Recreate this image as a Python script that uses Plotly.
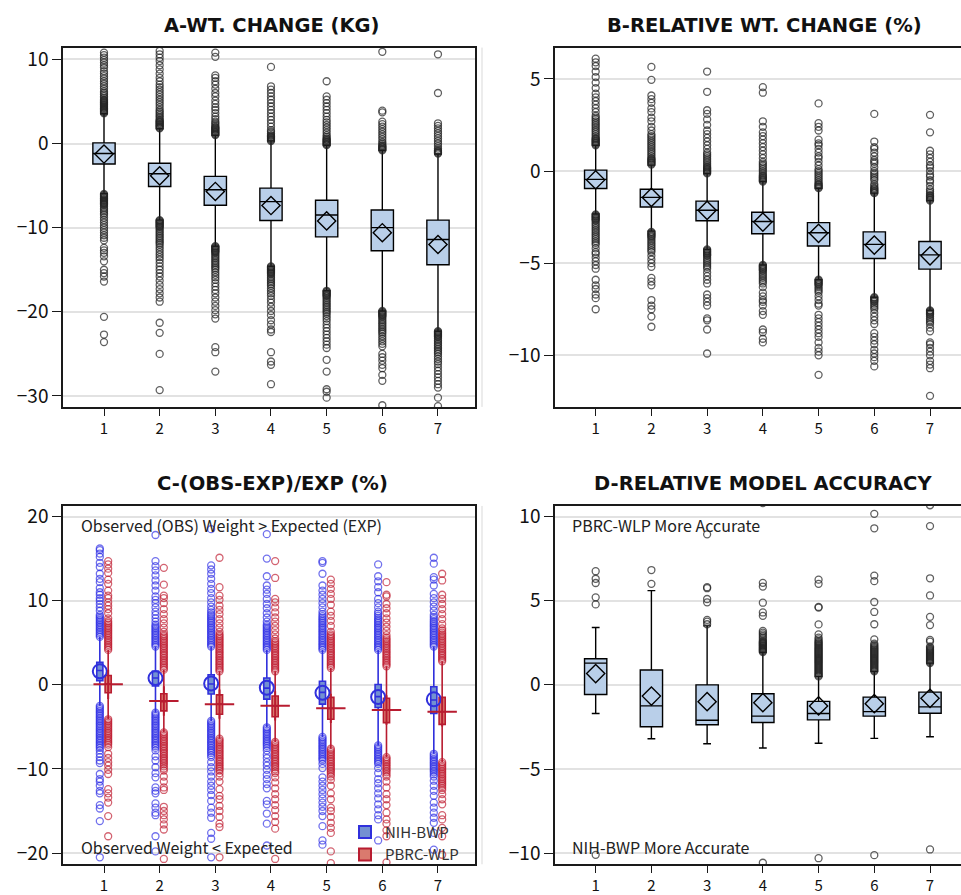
import plotly.graph_objects as go

# ---------------- categories ----------------
cats = [1, 2, 3, 4, 5, 6, 7]
tick_labels = ["1", "2", "3", "4", "5", "6", "7"]

# ---------------- Panel A: weight change (kg) ----------------
A_q1 = [-2.43, -5.1, -7.33, -9.14, -11.1, -12.75, -14.4]
A_median = [-1.18, -3.6, -5.5, -6.9, -8.5, -10.0, -11.4]
A_q3 = [0.08, -2.35, -3.9, -5.3, -6.75, -7.9, -9.1]
A_low = [-5.96, -9.1, -12.2, -14.6, -17.5, -19.9, -22.3]
A_high = [3.53, 1.76, 0.98, 0.31, -0.2, -0.8, -1.25]
A_mean = [-1.25, -3.84, -5.7, -7.37, -9.2, -10.6, -12.0]

A_out1 = [3.6, 3.7, 3.8, 3.9, 4.0, 4.1, 4.2, 4.3, 4.4, 4.5, 4.6, 4.7, 4.8, 4.9, 5.0, 5.1, 5.2, 5.4, 5.6, 5.8,
          6.0, 6.2, 6.5, 6.8, 7.1, 7.4, 7.7, 8.0, 8.3, 8.6, 9.0, 9.3, 9.6, 9.9, 10.2, 10.5, 10.8,
          -6.0, -6.1, -6.2, -6.3, -6.4, -6.5, -6.6, -6.7, -6.8, -6.9, -7.0, -7.1, -7.2, -7.3, -7.5, -7.7, -7.9,
          -8.1, -8.3, -8.5, -8.8, -9.1, -9.4, -9.7, -10.0, -10.3, -10.6, -10.9, -11.2, -11.5, -12.4, -12.7,
          -13.0, -13.4, -14.0, -15.0, -15.4, -15.8, -16.4, -20.6, -22.7, -23.6]
A_out2 = [1.8, 1.9, 2.0, 2.1, 2.2, 2.3, 2.4, 2.5, 2.6, 2.7, 2.8, 3.0, 3.2, 3.4, 3.6, 3.8, 4.0, 4.3, 4.6, 4.9,
          5.2, 5.5, 5.8, 6.1, 6.4, 6.7, 7.0, 7.4, 7.8, 8.3, 8.8, 9.3, 9.8, 10.2, 10.6, 11.0,
          -9.1, -9.2, -9.3, -9.4, -9.5, -9.6, -9.7, -9.8, -9.9, -10.0, -10.2, -10.4, -10.6, -10.8, -11.0,
          -11.2, -11.4, -11.6, -11.8, -12.0, -12.3, -12.6, -12.9, -13.2, -13.5, -13.8, -14.2, -14.6, -15.0,
          -15.4, -15.8, -16.3, -16.8, -17.3, -17.8, -18.3, -18.8, -21.3, -22.5, -25.0, -29.3]
A_out3 = [1.0, 1.1, 1.2, 1.3, 1.4, 1.5, 1.6, 1.7, 1.8, 1.9, 2.0, 2.2, 2.4, 2.6, 2.9, 3.2, 3.6, 4.0, 4.3, 4.7,
          5.1, 5.6, 6.0, 6.5, 7.0, 7.4, 7.8, 8.1, 10.3, 10.8,
          -12.2, -12.3, -12.4, -12.5, -12.6, -12.7, -12.8, -12.9, -13.0, -13.2, -13.4, -13.6, -13.8, -14.0,
          -14.2, -14.4, -14.6, -14.8, -15.0, -15.3, -15.6, -15.9, -16.2, -16.6, -17.0, -17.4, -17.8, -18.3,
          -18.8, -19.3, -19.8, -20.3, -20.8, -24.2, -24.8, -27.1]
A_out4 = [0.3, 0.4, 0.5, 0.6, 0.7, 0.8, 0.9, 1.0, 1.2, 1.4, 1.6, 2.0, 2.4, 2.8, 3.2, 3.6, 4.0, 4.4, 4.8, 5.2,
          5.6, 6.0, 6.4, 6.8, 9.1,
          -14.6, -14.7, -14.8, -14.9, -15.0, -15.1, -15.2, -15.3, -15.4, -15.5, -15.7, -15.9, -16.1, -16.3,
          -16.5, -16.7, -16.9, -17.2, -17.5, -17.8, -18.1, -18.5, -18.9, -19.4, -19.9, -20.4, -21.0, -21.5,
          -22.1, -22.4, -24.8, -25.9, -26.3, -28.6]
A_out5 = [-0.2, -0.1, 0.0, 0.1, 0.2, 0.3, 0.4, 0.5, 0.6, 0.8, 1.0, 1.3, 1.6, 1.9, 2.2, 2.5, 2.8, 3.2, 3.6,
          4.0, 4.4, 4.8, 5.2, 5.6, 7.4,
          -17.5, -17.6, -17.7, -17.8, -17.9, -18.0, -18.1, -18.2, -18.4, -18.6, -18.8, -19.0, -19.2, -19.4,
          -19.6, -19.8, -20.0, -20.2, -20.5, -20.8, -21.1, -21.5, -21.9, -22.3, -22.7, -23.1, -23.5, -23.9,
          -24.3, -25.7, -27.1, -29.2, -29.5, -30.2]
A_out6 = [-0.8, -0.7, -0.6, -0.5, -0.4, -0.3, -0.2, 0.0, 0.2, 0.5, 0.8, 1.1, 1.4, 1.7, 2.0, 2.3, 2.6, 3.7,
          3.9, 10.9,
          -19.9, -20.0, -20.1, -20.2, -20.3, -20.4, -20.5, -20.6, -20.8, -21.0, -21.2, -21.4, -21.6, -21.8,
          -22.0, -22.2, -22.4, -22.6, -22.9, -23.2, -23.5, -23.8, -24.1, -25.0, -25.4, -25.8, -26.3, -26.7,
          -27.5, -28.2, -31.1]
A_out7 = [-1.2, -1.1, -1.0, -0.9, -0.8, -0.6, -0.3, 0.0, 0.3, 0.6, 0.9, 1.2, 1.5, 1.8, 2.1, 2.4, 6.0, 10.6,
          -22.3, -22.4, -22.5, -22.6, -22.7, -22.8, -22.9, -23.0, -23.2, -23.4, -23.6, -23.8, -24.0, -24.2,
          -24.4, -24.6, -24.8, -25.0, -25.3, -25.6, -25.9, -26.2, -26.6, -27.0, -27.4, -27.8, -28.2, -28.6,
          -29.0, -30.2, -31.2]

# ---------------- Panel B: relative weight change (%) ----------------
B_q1 = [-0.95, -1.95, -2.7, -3.4, -4.07, -4.75, -5.32]
B_median = [-0.45, -1.43, -2.13, -2.74, -3.35, -3.98, -4.55]
B_q3 = [0.05, -0.99, -1.63, -2.24, -2.8, -3.3, -3.82]
B_low = [-2.33, -3.26, -4.25, -5.1, -5.9, -6.85, -7.56]
B_high = [1.4, 0.32, -0.13, -0.57, -0.93, -1.2, -1.6]
B_mean = [-0.48, -1.43, -2.13, -2.77, -3.38, -4.02, -4.6]

B_out1 = [1.4, 1.45, 1.5, 1.55, 1.6, 1.65, 1.7, 1.75, 1.8, 1.9, 2.0, 2.1, 2.2, 2.3, 2.4, 2.5, 2.6, 2.7, 2.8,
          2.9, 3.0, 3.2, 3.4, 3.6, 3.8, 4.0, 4.2, 4.5, 4.8, 5.1, 5.4, 5.7, 5.9, 6.1,
          -2.35, -2.4, -2.45, -2.5, -2.55, -2.6, -2.65, -2.7, -2.8, -2.9, -3.0, -3.1, -3.2, -3.3, -3.4, -3.5,
          -3.6, -3.7, -3.8, -3.9, -4.0, -4.2, -4.4, -4.5, -4.7, -4.9, -5.1, -5.3, -5.9, -6.2, -6.4, -6.7,
          -6.9, -7.5]
B_out2 = [0.35, 0.4, 0.45, 0.5, 0.55, 0.6, 0.65, 0.7, 0.8, 0.9, 1.0, 1.1, 1.2, 1.3, 1.4, 1.5, 1.6, 1.7, 1.8,
          1.9, 2.0, 2.2, 2.4, 2.7, 2.9, 3.2, 3.4, 3.7, 3.9, 4.1, 4.95, 5.65,
          -3.3, -3.35, -3.4, -3.45, -3.5, -3.55, -3.6, -3.7, -3.8, -3.9, -4.0, -4.1, -4.2, -4.3, -4.4, -4.6,
          -4.8, -5.0, -5.2, -5.8, -6.0, -6.2, -7.0, -7.3, -7.5, -7.9, -8.45]
B_out3 = [-0.13, -0.08, -0.03, 0.02, 0.07, 0.12, 0.17, 0.22, 0.3, 0.4, 0.5, 0.6, 0.7, 0.8, 0.9, 1.0, 1.2,
          1.4, 1.6, 1.8, 2.0, 2.2, 2.5, 2.8, 3.1, 3.3, 4.3, 5.4,
          -4.25, -4.3, -4.35, -4.4, -4.45, -4.5, -4.55, -4.6, -4.7, -4.8, -4.9, -5.0, -5.1, -5.2, -5.3, -5.5,
          -5.7, -5.9, -6.1, -6.7, -6.9, -7.1, -7.3, -8.0, -8.1, -8.6, -9.9]
B_out4 = [-0.57, -0.52, -0.47, -0.42, -0.37, -0.32, -0.27, -0.2, -0.1, 0.0, 0.1, 0.2, 0.3, 0.4, 0.5, 0.7,
          0.9, 1.1, 1.3, 1.5, 1.7, 1.9, 2.1, 2.4, 2.7, 4.25, 4.55,
          -5.1, -5.15, -5.2, -5.25, -5.3, -5.35, -5.4, -5.5, -5.6, -5.7, -5.8, -5.9, -6.0, -6.1, -6.3, -6.6,
          -6.8, -7.0, -7.1, -7.3, -7.6, -7.8, -8.6, -8.75, -9.1, -9.3]
B_out5 = [-0.93, -0.88, -0.83, -0.78, -0.73, -0.68, -0.6, -0.5, -0.4, -0.3, -0.2, -0.1, 0.0, 0.1, 0.3,
          0.5, 0.7, 0.8, 1.0, 1.2, 1.4, 1.5, 1.7, 2.2, 2.4, 2.6, 3.67,
          -5.9, -5.95, -6.0, -6.05, -6.1, -6.15, -6.2, -6.3, -6.4, -6.5, -6.6, -6.8, -7.0, -7.2, -7.3, -7.8,
          -8.0, -8.2, -8.4, -8.6, -8.8, -9.0, -9.3, -9.6, -9.8, -10.0, -11.06]
B_out6 = [-1.2, -1.15, -1.1, -1.05, -1.0, -0.95, -0.9, -0.8, -0.7, -0.5, -0.4, -0.3, -0.2, -0.1, 0.0, 0.2,
          0.4, 0.5, 0.6, 0.8, 1.0, 1.2, 1.3, 1.6, 3.1,
          -6.85, -6.9, -6.95, -7.0, -7.05, -7.1, -7.2, -7.3, -7.4, -7.5, -7.7, -7.9, -8.1, -8.3, -8.8, -9.0,
          -9.2, -9.4, -9.7, -9.9, -10.1, -10.3, -10.6]
B_out7 = [-1.6, -1.55, -1.5, -1.45, -1.4, -1.35, -1.3, -1.2, -1.1, -1.0, -0.8, -0.6, -0.5, -0.3, -0.2, 0.0,
          0.2, 0.3, 0.5, 0.7, 0.9, 1.1, 2.1, 3.05,
          -7.56, -7.6, -7.65, -7.7, -7.75, -7.8, -7.9, -8.0, -8.1, -8.2, -8.3, -8.5, -8.7, -9.3, -9.4, -9.6,
          -9.8, -10.0, -10.3, -10.5, -10.7, -12.2]

# ---------------- Panel C: (OBS-EXP)/EXP (%) ----------------
series_names = ["NIH-BWP", "PBRC-WLP"]

CB_q1 = [0.5, -0.15, -1.1, -1.7, -2.3, -2.7, -3.4]
CB_median = [1.7, 0.8, 0.1, -0.4, -0.9, -1.4, -1.8]
CB_q3 = [2.67, 1.6, 1.2, 0.8, 0.43, 0.04, -0.24]
CB_low = [-2.5, -3.3, -4.3, -5.05, -6.2, -7.2, -8.2]
CB_high = [5.7, 4.55, 4.55, 4.15, 4.15, 4.15, 4.55]
CB_mean = [1.6, 0.8, 0.15, -0.35, -0.95, -1.45, -1.73]

CR_q1 = [-0.94, -3.1, -3.5, -3.8, -4.1, -4.5, -4.7]
CR_median = [0.1, -2.0, -2.3, -2.5, -2.8, -3.0, -3.2]
CR_q3 = [1.1, -1.06, -1.2, -1.33, -1.5, -1.6, -1.5]
CR_low = [-4.1, -5.65, -6.4, -6.8, -7.6, -8.6, -9.2]
CR_high = [4.15, 1.8, 1.6, 1.6, 2.0, 2.2, 2.8]
CR_mean = [0.05, -1.92, -2.3, -2.5, -2.8, -3.0, -3.2]

CB_out1 = [5.7, 5.9, 6.1, 6.3, 6.5, 6.7, 6.9, 7.1, 7.3, 7.5, 7.7, 7.9, 8.1, 8.3, 8.8, 9.2, 9.6, 10.0, 10.3,
           10.7, 11.0, 11.5, 12.2, 12.6, 13.2, 14.0, 14.5, 15.2, 15.6, 16.0, 16.2,
           -2.5, -2.7, -2.9, -3.1, -3.3, -3.5, -3.7, -3.9, -4.1, -4.3, -4.5, -4.7, -4.9, -5.1, -5.3, -5.5, -5.7,
           -5.9, -6.1, -6.3, -6.5, -6.7, -6.9, -7.1, -7.3, -7.5, -7.8, -8.2, -8.6, -9.0, -9.3, -10.6, -11.2,
           -11.5, -12.0, -12.6, -12.9, -14.3, -14.7, -16.2, -20.5]
CR_out1 = [4.15, 4.35, 4.55, 4.75, 4.95, 5.15, 5.35, 5.55, 5.75, 5.95, 6.15, 6.35, 6.55, 6.75, 6.95, 7.15,
           7.35, 7.55, 7.9, 8.5, 9.0, 9.4, 9.8, 10.3, 10.6, 11.2, 12.0, 12.5, 13.3, 13.8, 14.3, 14.7,
           -4.1, -4.3, -4.5, -4.7, -4.9, -5.1, -5.3, -5.5, -5.7, -5.9, -6.1, -6.3, -6.5, -6.7, -6.9, -7.1, -7.4,
           -8.2, -8.7, -9.2, -9.6, -10.1, -10.6, -12.4, -12.9, -13.4, -14.0, -15.6, -18.0]
CB_out2 = [4.55, 4.75, 4.95, 5.15, 5.35, 5.55, 5.75, 5.95, 6.15, 6.35, 6.55, 6.75, 6.95, 7.15, 7.5, 7.9, 8.3,
           8.7, 9.2, 9.7, 10.1, 10.5, 11.2, 11.8, 12.4, 13.0, 13.6, 14.1, 14.7, 17.8,
           -3.3, -3.5, -3.7, -3.9, -4.1, -4.3, -4.5, -4.7, -4.9, -5.1, -5.3, -5.5, -5.7, -5.9, -6.1, -6.3, -6.5,
           -6.7, -6.9, -7.1, -7.3, -7.5, -7.8, -8.5, -9.0, -9.8, -10.5, -11.0, -12.2, -12.6, -12.9, -14.1,
           -14.6, -15.2, -15.5, -18.0, -19.8]
CR_out2 = [1.8, 2.0, 2.2, 2.4, 2.6, 2.8, 3.0, 3.2, 3.4, 3.6, 3.8, 4.0, 4.2, 4.4, 4.6, 4.8, 5.0, 5.2, 5.4,
           5.6, 5.8, 6.0, 6.3, 6.8, 7.3, 7.8, 8.4, 9.0, 9.7, 10.3, 10.6, 11.9, 13.9,
           -5.65, -5.85, -6.05, -6.25, -6.45, -6.65, -6.85, -7.05, -7.25, -7.45, -7.65, -7.85, -8.05, -8.25,
           -8.45, -8.65, -8.85, -9.05, -9.25, -9.45, -9.7, -9.95, -10.2, -10.9, -11.5, -12.2, -12.5, -14.5,
           -15.0, -15.5, -16.0, -16.6, -17.2, -20.7]
CB_out3 = [4.55, 4.75, 4.95, 5.15, 5.35, 5.55, 5.75, 5.95, 6.15, 6.35, 6.55, 6.75, 6.95, 7.15, 7.35, 7.55,
           7.75, 7.95, 8.15, 8.35, 8.6, 8.9, 9.3, 9.8, 10.3, 10.9, 11.4, 12.0, 12.6, 13.2, 13.7, 14.2, 18.5,
           -4.3, -4.5, -4.7, -4.9, -5.1, -5.3, -5.5, -5.7, -5.9, -6.1, -6.3, -6.5, -6.7, -6.9, -7.1, -7.3, -7.5,
           -7.7, -7.9, -8.1, -8.35, -8.6, -9.2, -9.8, -10.3, -10.9, -11.5, -12.0, -12.5, -13.1, -13.8, -14.6,
           -15.2, -15.8, -17.6, -18.3, -20.5]
CR_out3 = [1.6, 1.8, 2.0, 2.2, 2.4, 2.6, 2.8, 3.0, 3.2, 3.4, 3.6, 3.8, 4.0, 4.2, 4.4, 4.6, 4.8, 5.0, 5.2,
           5.4, 5.6, 5.8, 6.0, 6.3, 6.8, 7.3, 7.8, 8.4, 8.9, 9.4, 10.1, 10.6, 11.6, 15.1,
           -6.4, -6.6, -6.8, -7.0, -7.2, -7.4, -7.6, -7.8, -8.0, -8.2, -8.4, -8.6, -8.8, -9.0, -9.2, -9.4, -9.6,
           -9.8, -10.0, -10.2, -10.5, -10.9, -11.5, -12.4, -13.2, -13.6, -14.4, -15.0, -15.7, -16.5, -16.9,
           -20.5]
CB_out4 = [4.15, 4.35, 4.55, 4.75, 4.95, 5.15, 5.35, 5.55, 5.75, 5.95, 6.15, 6.35, 6.55, 6.75, 6.95, 7.15,
           7.5, 8.0, 8.5, 9.1, 9.6, 10.2, 10.8, 11.3, 11.8, 12.9, 15.0, 17.9,
           -5.05, -5.25, -5.45, -5.65, -5.85, -6.05, -6.25, -6.45, -6.65, -6.85, -7.05, -7.25, -7.5, -7.8,
           -8.3, -8.7, -9.2, -9.6, -10.1, -10.7, -11.2, -11.8, -12.3, -13.8, -14.2, -15.3, -16.5, -19.1]
CR_out4 = [1.6, 1.8, 2.0, 2.2, 2.4, 2.6, 2.8, 3.0, 3.2, 3.4, 3.6, 3.8, 4.0, 4.2, 4.4, 4.6, 4.8, 5.0, 5.2,
           5.5, 6.0, 6.5, 7.0, 7.5, 8.0, 8.6, 9.2, 9.8, 10.2, 12.7, 14.7,
           -6.8, -7.0, -7.2, -7.4, -7.6, -7.8, -8.0, -8.2, -8.4, -8.6, -8.8, -9.0, -9.2, -9.4, -9.6, -9.8,
           -10.05, -10.3, -10.5, -11.0, -11.6, -12.3, -13.0, -13.6, -14.3, -14.9, -15.6, -16.3, -17.1, -20.7]
CB_out5 = [4.15, 4.35, 4.55, 4.75, 4.95, 5.15, 5.35, 5.55, 5.75, 5.95, 6.15, 6.35, 6.55, 6.75, 6.95, 7.15,
           7.35, 7.55, 7.75, 7.95, 8.15, 8.4, 8.7, 9.2, 9.7, 10.2, 10.7, 11.2, 11.8, 13.2, 14.5, 14.7,
           -6.2, -6.4, -6.6, -6.8, -7.0, -7.2, -7.4, -7.6, -7.8, -8.0, -8.2, -8.4, -8.6, -8.8, -9.0, -9.4,
           -9.9, -11.0, -11.5, -12.0, -12.5, -13.0, -13.5, -14.0, -14.5, -15.0, -15.6, -16.8, -18.5, -19.0]
CR_out5 = [2.0, 2.2, 2.4, 2.6, 2.8, 3.0, 3.2, 3.4, 3.6, 3.8, 4.0, 4.2, 4.4, 4.6, 4.8, 5.0, 5.2, 5.4, 5.6,
           5.8, 6.0, 6.3, 7.0, 7.6, 8.2, 8.7, 9.5, 10.2, 10.8, 11.4, 12.0, 12.5,
           -7.6, -7.8, -8.0, -8.2, -8.4, -8.6, -8.8, -9.0, -9.2, -9.4, -9.6, -9.8, -10.0, -10.2, -10.4, -10.65,
           -10.9, -11.3, -12.0, -12.9, -13.6, -14.6, -15.0, -15.7, -16.4, -17.0, -17.6, -19.8, -21.2]
CB_out6 = [4.15, 4.35, 4.55, 4.75, 4.95, 5.15, 5.35, 5.55, 5.75, 5.95, 6.15, 6.35, 6.55, 6.75, 6.95, 7.15,
           7.35, 7.55, 7.75, 7.95, 8.2, 8.45, 8.7, 9.2, 9.7, 10.2, 11.0, 11.6, 12.3, 12.9, 14.3,
           -7.2, -7.4, -7.6, -7.8, -8.0, -8.2, -8.4, -8.6, -8.8, -9.0, -9.2, -9.4, -9.9, -10.5, -11.2, -11.7,
           -12.3, -12.9, -13.5, -14.2, -14.8, -15.5, -16.0, -18.5]
CR_out6 = [2.2, 2.4, 2.6, 2.8, 3.0, 3.2, 3.4, 3.6, 3.8, 4.0, 4.2, 4.4, 4.6, 4.8, 5.0, 5.2, 5.4, 5.6, 5.9,
           6.4, 6.9, 7.4, 7.9, 8.5, 9.1, 9.6, 10.5, 10.7, 12.2,
           -8.6, -8.8, -9.0, -9.2, -9.4, -9.6, -9.8, -10.0, -10.2, -10.4, -10.65, -10.9, -11.5, -12.2, -13.0,
           -13.6, -14.3, -15.2, -16.0, -16.5, -17.3, -18.0, -21.1]
CB_out7 = [4.55, 4.75, 4.95, 5.15, 5.35, 5.55, 5.75, 5.95, 6.15, 6.35, 6.55, 6.75, 6.95, 7.15, 7.35, 7.55,
           7.8, 8.05, 8.3, 8.8, 9.3, 9.8, 10.3, 10.8, 11.8, 12.5, 12.8, 14.4, 15.1,
           -8.2, -8.4, -8.6, -8.8, -9.0, -9.2, -9.4, -9.6, -9.8, -10.0, -10.2, -10.4, -10.65, -10.9, -11.4,
           -12.0, -12.6, -13.2, -14.0, -14.6, -15.2, -15.8, -16.4, -17.6, -19.6]
CR_out7 = [2.8, 3.0, 3.2, 3.4, 3.6, 3.8, 4.0, 4.2, 4.4, 4.6, 4.8, 5.0, 5.2, 5.4, 5.6, 5.8, 6.0, 6.2, 6.45,
           6.7, 7.2, 7.8, 8.4, 9.0, 9.6, 10.2, 10.7, 12.4, 13.2,
           -9.2, -9.4, -9.6, -9.8, -10.0, -10.2, -10.4, -10.6, -10.8, -11.0, -11.2, -11.4, -11.6, -11.8,
           -12.0, -12.25, -12.5, -13.0, -13.6, -14.2, -15.5, -16.0, -17.0, -18.0, -20.2]

# ---------------- Panel D: relative model accuracy ----------------
D_q1 = [-0.57, -2.49, -2.37, -2.24, -2.08, -1.86, -1.69]
D_median = [1.29, -1.25, -2.1, -1.86, -1.7, -1.59, -1.31]
D_q3 = [1.55, 0.88, 0.0, -0.53, -0.98, -0.73, -0.43]
D_low = [-1.7, -3.2, -3.5, -3.75, -3.47, -3.18, -3.08]
D_high = [3.41, 5.6, 3.5, 1.94, 0.5, 0.8, 1.29]
D_mean = [0.67, -0.67, -1.0, -1.06, -1.25, -1.12, -0.8]

D_out1 = [4.78, 5.2, 6.05, 6.3, 6.75, -10.1]
D_out2 = [6.0, 6.82]
D_out3 = [3.6, 3.75, 3.86, 4.9, 5.1, 5.74, 5.8, 8.94]
D_out4 = [1.95, 2.0, 2.05, 2.1, 2.15, 2.2, 2.25, 2.3, 2.35, 2.4, 2.45, 2.5, 2.55, 2.6, 2.7, 2.8, 2.9,
          3.0, 3.1, 3.2, 4.1, 4.3, 4.88, 5.84, 6.06, 10.8, -10.57]
D_out5 = [0.5, 0.56, 0.62, 0.68, 0.74, 0.8, 0.86, 0.92, 0.98, 1.04, 1.1, 1.16, 1.22, 1.28, 1.34, 1.4, 1.46,
          1.52, 1.58, 1.64, 1.7, 1.76, 1.82, 1.88, 1.94, 2.0, 2.06, 2.12, 2.18, 2.24, 2.3, 2.36, 2.42, 2.48,
          2.54, 2.6, 2.7, 2.8, 3.0, 3.59, 4.59, 4.63, 6.0, 6.25, -10.3]
D_out6 = [0.8, 0.86, 0.92, 0.98, 1.04, 1.1, 1.16, 1.22, 1.28, 1.34, 1.4, 1.46, 1.52, 1.58, 1.64, 1.7, 1.76,
          1.82, 1.88, 1.94, 2.0, 2.06, 2.12, 2.18, 2.24, 2.3, 2.37, 2.45, 2.7, 3.6, 4.33, 4.92, 6.16, 6.49,
          9.3, 10.16, -10.12]
D_out7 = [1.29, 1.35, 1.41, 1.47, 1.53, 1.59, 1.65, 1.71, 1.77, 1.83, 1.89, 1.95, 2.01, 2.07, 2.13, 2.2,
          2.27, 2.57, 2.67, 3.55, 4.04, 5.31, 6.33, 9.43, 10.67, -9.78]

# ---------------- text ----------------
panel_titles = ["A-WT. CHANGE (KG)", "B-RELATIVE WT. CHANGE (%)",
                "C-(OBS-EXP)/EXP (%)", "D-RELATIVE MODEL ACCURACY"]
c_top_note = "Observed (OBS) Weight > Expected (EXP)"
c_bottom_note = "Observed Weight < Expected"
d_top_note = "PBRC-WLP More Accurate"
d_bottom_note = "NIH-BWP More Accurate"

# ---------------- styles ----------------
W, H = 961, 895
FONT = "Noto Sans CJK JP"
TITLE_FONT = "DejaVu Sans"
BOX_FILL = "#B9CFE9"
GREY_OUT = "rgba(35,35,35,0.72)"
BLUE = "#3030DC"
BLUE_OUT = "rgba(45,45,228,0.68)"
BLUE_FILL = "#7391D2"
RED = "#B81C30"
RED_OUT = "rgba(190,25,45,0.68)"
RED_FILL = "#DA7A6E"

fig = go.Figure()


def outlier_xy(groups, shift=0.0):
    xs, ys = [], []
    for c, vals in zip(cats, groups):
        xs.extend([c + shift] * len(vals))
        ys.extend(vals)
    return xs, ys


def add_single_panel(ax, q1, med, q3, lo, hi, mean, outs):
    xa, ya = ("x" if ax == 1 else f"x{ax}"), ("y" if ax == 1 else f"y{ax}")
    fig.add_trace(go.Box(x=cats, q1=q1, median=med, q3=q3, lowerfence=lo, upperfence=hi,
                         width=0.4, whiskerwidth=0.35, fillcolor=BOX_FILL,
                         line=dict(color="black", width=1.4), boxpoints=False,
                         showlegend=False, hoverinfo="skip", xaxis=xa, yaxis=ya))
    ox, oy = outlier_xy(outs)
    fig.add_trace(go.Scatter(x=ox, y=oy, mode="markers", showlegend=False, hoverinfo="skip",
                             marker=dict(symbol="circle-open", size=7, color=GREY_OUT,
                                         line=dict(width=1.3)), xaxis=xa, yaxis=ya))
    fig.add_trace(go.Scatter(x=cats, y=mean, mode="markers", showlegend=False, hoverinfo="skip",
                             marker=dict(symbol="diamond-open", size=14, color="black",
                                         line=dict(width=1.4)), xaxis=xa, yaxis=ya))


add_single_panel(1, A_q1, A_median, A_q3, A_low, A_high, A_mean,
                 [A_out1, A_out2, A_out3, A_out4, A_out5, A_out6, A_out7])
add_single_panel(2, B_q1, B_median, B_q3, B_low, B_high, B_mean,
                 [B_out1, B_out2, B_out3, B_out4, B_out5, B_out6, B_out7])
add_single_panel(4, D_q1, D_median, D_q3, D_low, D_high, D_mean,
                 [D_out1, D_out2, D_out3, D_out4, D_out5, D_out6, D_out7])

# Panel C: two series side by side
SHIFT = 0.075
for name, shift, q1, med, q3, lo, hi, mean, outs, col, ocol, fcol, msym, msize in [
    (series_names[0], -SHIFT, CB_q1, CB_median, CB_q3, CB_low, CB_high, CB_mean,
     [CB_out1, CB_out2, CB_out3, CB_out4, CB_out5, CB_out6, CB_out7], BLUE, BLUE_OUT, BLUE_FILL,
     "circle-open", 14),
    (series_names[1], SHIFT, CR_q1, CR_median, CR_q3, CR_low, CR_high, CR_mean,
     [CR_out1, CR_out2, CR_out3, CR_out4, CR_out5, CR_out6, CR_out7], RED, RED_OUT, RED_FILL,
     "cross-thin-open", 21),
]:
    xs = [c + shift for c in cats]
    ox, oy = outlier_xy(outs, shift)
    fig.add_trace(go.Scatter(x=ox, y=oy, mode="markers", showlegend=False, hoverinfo="skip",
                             marker=dict(symbol="circle-open", size=7, color=ocol,
                                         line=dict(width=1.3)), xaxis="x3", yaxis="y3"))
    fig.add_trace(go.Box(x=xs, q1=q1, median=med, q3=q3, lowerfence=lo, upperfence=hi,
                         width=0.11, whiskerwidth=0.0, fillcolor=fcol, name=name,
                         line=dict(color=col, width=1.6), boxpoints=False,
                         showlegend=True, hoverinfo="skip", xaxis="x3", yaxis="y3"))
    fig.add_trace(go.Scatter(x=xs, y=mean, mode="markers", showlegend=False, hoverinfo="skip",
                             marker=dict(symbol=msym, size=msize, color=col,
                                         line=dict(width=2, color=col)), xaxis="x3", yaxis="y3"))

# ---------------- layout ----------------
def px_x(p):
    return p / W


def px_y(p):
    return 1 - p / H


dom_left = [px_x(63), px_x(475)]
dom_right = [px_x(555), 1.0]
dom_top = [px_y(406), px_y(43)]
dom_bot = [px_y(868), px_y(506)]

axis_common = dict(showline=True, linecolor="#1a1a1a", linewidth=1.5, zeroline=False,
                   ticks="outside", tickcolor="#1a1a1a", tickwidth=1.3)
xcommon = dict(axis_common, tickmode="array", tickvals=cats, ticktext=tick_labels, ticklen=7,
               showgrid=False, tickfont=dict(family=FONT, size=15, color="#111"))
ycommon = dict(axis_common, ticklen=9, showgrid=True, gridcolor="#e2e2e2", gridwidth=1.5,
               tickfont=dict(family=FONT, size=19, color="#111"))

fig.update_layout(
    width=W, height=H, margin=dict(l=0, r=0, t=0, b=0), autosize=False,
    paper_bgcolor="white", plot_bgcolor="white", font=dict(family=FONT, color="#111"),
    xaxis=dict(xcommon, domain=dom_left, range=[0.2635, 7.665], mirror=True, anchor="y"),
    yaxis=dict(ycommon, domain=dom_top, range=[-31.3, 11.4], dtick=10, mirror=True, anchor="x"),
    xaxis2=dict(xcommon, domain=dom_right, range=[0.27, 7.556], mirror=True, anchor="y2"),
    yaxis2=dict(ycommon, domain=dom_top, range=[-12.8, 6.7], dtick=5, mirror=False, anchor="x2"),
    xaxis3=dict(xcommon, domain=dom_left, range=[0.2635, 7.665], mirror=True, anchor="y3"),
    yaxis3=dict(ycommon, domain=dom_bot, range=[-21.33, 21.26], dtick=10, mirror=True, anchor="x3"),
    xaxis4=dict(xcommon, domain=dom_right, range=[0.27, 7.556], mirror=True, anchor="y4"),
    yaxis4=dict(ycommon, domain=dom_bot, range=[-10.66, 10.63], dtick=5, mirror=False, anchor="x4"),
    legend=dict(x=px_x(345), y=px_y(819), xanchor="left", yanchor="top",
                bgcolor="rgba(0,0,0,0)", font=dict(family=FONT, size=15, color="#333"),
                tracegroupgap=0, itemsizing="constant"),
    showlegend=True,
)

title_pos = [(271, 21), (764, 21), (272, 483), (763, 483)]
annotations = []
for t, (cx, cy) in zip(panel_titles, title_pos):
    annotations.append(dict(text=f"<b>{t}</b>", x=px_x(cx), y=px_y(cy), xref="paper", yref="paper",
                            xanchor="center", yanchor="middle", showarrow=False,
                            font=dict(family=TITLE_FONT, size=19.5, color="#111")))
for t, (lx, cy) in zip([c_top_note, c_bottom_note, d_top_note, d_bottom_note],
                       [(79, 525), (79, 851), (570, 525), (570, 851)]):
    annotations.append(dict(text=t, x=px_x(lx), y=px_y(cy), xref="paper", yref="paper",
                            xanchor="left", yanchor="middle", showarrow=False,
                            font=dict(family=FONT, size=16, color="#222")))
fig.update_layout(annotations=annotations)

fig.update_layout(shapes=[
    dict(type="line", xref="paper", yref="paper", x0=px_x(482), x1=px_x(482),
         y0=px_y(406), y1=px_y(43), line=dict(color="#d9d9d9", width=1)),
    dict(type="line", xref="paper", yref="paper", x0=px_x(482), x1=px_x(482),
         y0=px_y(868), y1=px_y(506), line=dict(color="#d9d9d9", width=1)),
])

fig.write_html("out.html", config={"displayModeBar": False},
               post_script="document.body.style.margin='0';")
